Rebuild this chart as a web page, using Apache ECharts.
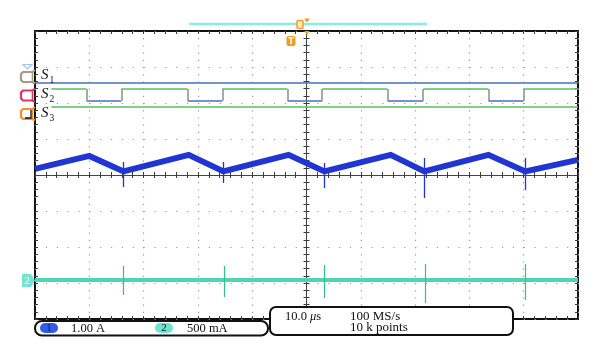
<!DOCTYPE html>
<html><head><meta charset="utf-8">
<script src="https://cdn.jsdelivr.net/npm/echarts@6/dist/echarts.min.js"></script>
<style>html,body{margin:0;padding:0;background:#fff}#c{width:600px;height:359px}</style>
</head><body><div id="c"></div>
<script>
// Time in µs (10 µs/div, screen centre = 0); levels in divisions (8 vertical divisions, centre = 0)
const ch1Time  = [-50, -40.0, -33.7, -21.7, -15.3, -3.3, 3.3, 15.5, 21.7, 33.5, 40.3, 50];
const ch1Level = [0.17, 0.53, 0.10, 0.56, 0.10, 0.56, 0.10, 0.56, 0.10, 0.56, 0.10, 0.42];
const ch1SpikeTime   = [-33.7, -15.3, 3.3, 21.7, 40.3];
const ch1SpikeTop    = [0.36, 0.36, 0.33, 0.47, 0.47];
const ch1SpikeBottom = [-0.33, -0.22, -0.36, -0.64, -0.42];
const ch2Time  = [-50, 50];
const ch2Level = [-2.92, -2.92];
const ch2SpikeTime   = [-33.7, -15.1, 3.3, 21.9, 40.3];
const ch2SpikeTop    = [-2.53, -2.53, -2.50, -2.47, -2.47];
const ch2SpikeBottom = [-3.33, -3.39, -3.42, -3.56, -3.47];
const s1Start = -50, s1Level = 2.56;
const s2Start = -47, s2High = 2.39, s2Low = 2.06;
const s2EdgeTime = [-40.5, -34.1, -21.9, -15.5, -3.5, 2.9, 14.9, 21.5, 33.5, 40.0];
const s3Start = -47, s3Level = 1.89;
const traceEnd = 50;
const digitalNames = ['1', '2', '3'];
const channelScales = ['1.00 A', '500 mA'];
const timeBase = '10.0';
const sampleRate = '100 MS/s';
const recordLength = '10 k points';

const BLUE = '#2035d2', CYAN = '#4fd6b0', DBLUE = '#4a6cc4', DGREEN = '#55c25c';
const SERIF = '"Liberation Serif","DejaVu Serif",serif';

const chart = echarts.init(document.getElementById('c'));
const zip = (a, b) => a.map((v, i) => [v, b[i]]);
const seg = (x1, y1, x2, y2, color) => ({coords: [[x1, y1], [x2, y2]], lineStyle: {color}});

const s2Times = [s2Start, ...s2EdgeTime, traceEnd];
const s2Segs = [];
for (let i = 0; i < s2Times.length - 1; i++) {
  const hi = i % 2 === 0;
  s2Segs.push(seg(s2Times[i], hi ? s2High : s2Low, s2Times[i + 1], hi ? s2High : s2Low, hi ? DGREEN : DBLUE));
}
s2EdgeTime.forEach(t => s2Segs.push(seg(t, s2Low, t, s2High, '#8a8f8a')));
const digSegs = [seg(s1Start, s1Level, traceEnd, s1Level, DBLUE), seg(s3Start, s3Level, traceEnd, s3Level, DGREEN)].concat(s2Segs);
const ch1Spikes = ch1SpikeTime.map((t, i) => seg(t, ch1SpikeBottom[i], t, ch1SpikeTop[i], BLUE));
const ch2Spikes = ch2SpikeTime.map((t, i) => seg(t, ch2SpikeBottom[i], t, ch2SpikeTop[i], '#2fbf95'));

const tickCol = '#3a3a3a';
function ax(range, extra) {
  return Object.assign({
    type: 'value', min: -range, max: range, interval: range === 50 ? 10 : 1,
    axisLabel: {show: false}, splitLine: {show: false},
    axisLine: {show: false, onZero: false},
    axisTick: {show: true, inside: true, length: 3, lineStyle: {color: tickCol}},
    minorTick: {show: true, splitNumber: 5, length: 3, lineStyle: {color: tickCol}},
    axisPointer: {show: false}
  }, extra);
}
const xAxes = [
  ax(50, {position: 'bottom', axisTick: {show: false}, minorTick: {show: false},
    splitLine: {show: true, lineStyle: {color: '#9a9a9a', width: 1.2, type: [1.2, 6]}}}),
  ax(50, {position: 'top'}),
  ax(50, {position: 'bottom'}),
  ax(50, {position: 'bottom', axisLine: {show: true, onZero: true, lineStyle: {color: '#444', width: 1}}}),
  ax(50, {position: 'bottom', axisLine: {show: false, onZero: true},
    axisTick: {show: true, inside: false, length: 3, lineStyle: {color: tickCol}}})
];
const yAxes = [
  ax(4, {position: 'left', axisTick: {show: false}, minorTick: {show: false},
    splitLine: {show: true, lineStyle: {color: '#9a9a9a', width: 1.2, type: [1.2, 9.66]}}}),
  ax(4, {position: 'left'}),
  ax(4, {position: 'right'}),
  ax(4, {position: 'left', axisLine: {show: true, onZero: true, lineStyle: {color: '#444', width: 1}}}),
  ax(4, {position: 'left', axisLine: {show: false, onZero: true},
    axisTick: {show: true, inside: false, length: 3, lineStyle: {color: tickCol}}})
];

function tag(y, color, inner) {
  const p = [[35, y], [32.5, y + 2], [23, y + 2], [21, y + 4], [21, y + 10], [23, y + 12], [32.5, y + 12], [35, y + 13.5]];
  const g = [{type: 'polyline', z: 50, shape: {points: p}, style: {fill: 'none', stroke: color, lineWidth: 2.2}},
    {type: 'line', z: 50, shape: {x1: 32.5, y1: y + 2, x2: 32.5, y2: y + 12}, style: {stroke: color, lineWidth: 1.6}}];
  if (inner) g.push({type: 'polyline', z: 51, shape: {points: [[25, y + 11], [31, y + 11], [31, y + 3]]},
    style: {fill: 'none', stroke: inner, lineWidth: 1.3}});
  return g;
}
function sLabel(y, sub) {
  return [
    {type: 'text', x: 41, y: y, z: 50, style: {text: 'S', fontFamily: SERIF, fontStyle: 'italic', fontSize: 15, fill: '#111', textVerticalAlign: 'middle'}},
    {type: 'text', x: 49.5, y: y + 5, z: 50, style: {text: sub, fontFamily: SERIF, fontSize: 9.5, fill: '#111', textVerticalAlign: 'middle'}}
  ];
}

const graphics = [].concat(
  [{type: 'line', z: 50, shape: {x1: 189, y1: 24, x2: 427, y2: 24}, style: {stroke: '#8beedd', lineWidth: 2.5}},
   {type: 'rect', z: 51, shape: {x: 297, y: 20.5, width: 6, height: 8, r: 1}, style: {fill: '#fde6b8', stroke: '#f0a030', lineWidth: 1.5}},
   {type: 'polygon', z: 51, shape: {points: [[304, 18.5], [310, 18.5], [307, 22.5]]}, style: {fill: '#f39c1e'}},
   {type: 'polygon', z: 51, shape: {points: [[304.5, 31], [309.5, 31], [307, 35]]}, style: {fill: '#f39c1e'}},
   {type: 'rect', z: 51, shape: {x: 286.5, y: 36, width: 9, height: 10, r: 2}, style: {fill: '#f39c1e'}},
   {type: 'text', z: 52, x: 291, y: 41.5, style: {text: 'T', fontFamily: 'DejaVu Sans', fontWeight: 'bold', fontSize: 9, fill: '#ffffff', textAlign: 'center', textVerticalAlign: 'middle'}},
   {type: 'polygon', z: 50, shape: {points: [[23, 64.5], [32, 64.5], [27.5, 69]]}, style: {fill: 'none', stroke: '#a8c4ec', lineWidth: 1.2}},
   {type: 'polygon', z: 50, shape: {points: [[22, 274], [31, 274], [35, 280.5], [31, 287], [22, 287]]}, style: {fill: '#76e2cf'}},
   {type: 'text', z: 51, x: 27, y: 281, style: {text: '2', fontFamily: SERIF, fontSize: 11, fill: '#fff', textAlign: 'center', textVerticalAlign: 'middle'}}
  ],
  tag(70, '#a89c7c'), tag(88.5, '#dc3560'), tag(107, '#f0922e', '#111'),
  sLabel(75, digitalNames[0]), sLabel(94, digitalNames[1]), sLabel(113, digitalNames[2]),
  [{type: 'rect', z: 60, shape: {x: 35, y: 321, width: 233, height: 14.5, r: 7}, style: {fill: '#fff', stroke: '#111', lineWidth: 2}},
   {type: 'rect', z: 61, shape: {x: 40, y: 323, width: 18, height: 10, r: 5}, style: {fill: '#2f5ce8'}},
   {type: 'text', z: 62, x: 49, y: 328.5, style: {text: '1', fontFamily: SERIF, fontSize: 11, fill: '#102060', textAlign: 'center', textVerticalAlign: 'middle'}},
   {type: 'text', z: 62, x: 71, y: 328.5, style: {text: channelScales[0], fontFamily: SERIF, fontSize: 12.5, fill: '#111', textVerticalAlign: 'middle'}},
   {type: 'rect', z: 61, shape: {x: 155, y: 323, width: 18, height: 10, r: 5}, style: {fill: '#6fe3cc'}},
   {type: 'text', z: 62, x: 164, y: 328.5, style: {text: '2', fontFamily: SERIF, fontSize: 11, fill: '#114', textAlign: 'center', textVerticalAlign: 'middle'}},
   {type: 'text', z: 62, x: 187, y: 328.5, style: {text: channelScales[1], fontFamily: SERIF, fontSize: 12.5, fill: '#111', textVerticalAlign: 'middle'}},
   {type: 'rect', z: 60, shape: {x: 270, y: 307, width: 243, height: 28, r: 6}, style: {fill: '#fff', stroke: '#111', lineWidth: 2}},
   {type: 'text', z: 62, x: 285, y: 316.5, style: {text: timeBase + ' {i|μ}s', fontFamily: SERIF, fontSize: 12.5, fill: '#111', textVerticalAlign: 'middle',
     rich: {i: {fontFamily: SERIF, fontStyle: 'italic', fontSize: 12.5, fill: '#111'}}}},
   {type: 'text', z: 62, x: 350, y: 316.5, style: {text: sampleRate, fontFamily: SERIF, fontSize: 13, fill: '#111', textVerticalAlign: 'middle'}},
   {type: 'text', z: 62, x: 350, y: 328, style: {text: recordLength, fontFamily: SERIF, fontSize: 13, fill: '#111', textVerticalAlign: 'middle'}}
  ]
);

chart.setOption({
  animation: false,
  backgroundColor: '#fff',
  grid: {left: 35, right: 22, top: 31, bottom: 40, show: true, borderColor: '#111', borderWidth: 2, backgroundColor: 'transparent'},
  xAxis: xAxes,
  yAxis: yAxes,
  series: [
    {type: 'lines', coordinateSystem: 'cartesian2d', xAxisIndex: 0, yAxisIndex: 0, z: 3,
      lineStyle: {width: 1.5, opacity: 1}, data: digSegs, silent: true},
    {type: 'line', xAxisIndex: 0, yAxisIndex: 0, z: 4, data: zip(ch2Time, ch2Level), showSymbol: false, symbol: 'none',
      lineStyle: {color: CYAN, width: 4}, silent: true},
    {type: 'lines', coordinateSystem: 'cartesian2d', xAxisIndex: 0, yAxisIndex: 0, z: 5,
      lineStyle: {width: 1.2, opacity: 1}, data: ch2Spikes, silent: true},
    {type: 'line', xAxisIndex: 0, yAxisIndex: 0, z: 6, data: zip(ch1Time, ch1Level), showSymbol: false, symbol: 'none',
      lineStyle: {color: BLUE, width: 6, join: 'miter'}, silent: true},
    {type: 'lines', coordinateSystem: 'cartesian2d', xAxisIndex: 0, yAxisIndex: 0, z: 7,
      lineStyle: {width: 1.3, opacity: 1}, data: ch1Spikes, silent: true}
  ],
  graphic: graphics
});
</script></body></html>
